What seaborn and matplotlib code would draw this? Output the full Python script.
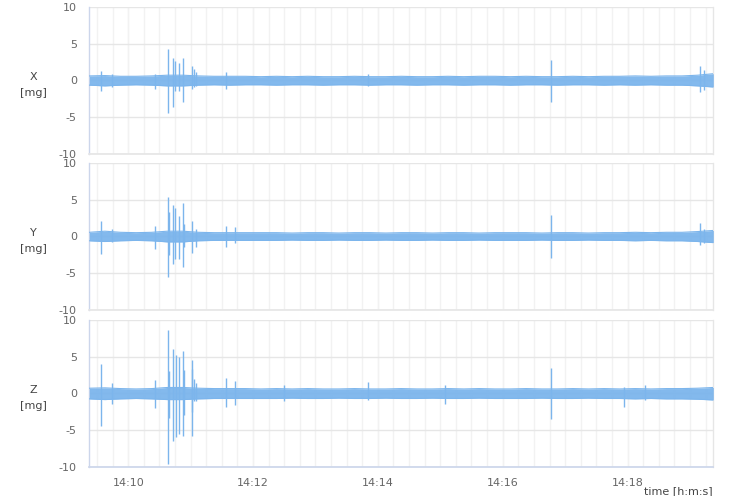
import matplotlib
matplotlib.use("Agg")
import matplotlib.pyplot as plt
from matplotlib.ticker import FuncFormatter, FixedLocator
import seaborn as sns
import pandas as pd

# ---------------- data (seconds after 14:00:00) ----------------
band_t = [562.5, 577.5, 592.5, 607.5, 622.5, 637.5, 652.5, 667.5, 682.5, 697.5,
          712.5, 727.5, 742.5, 757.5, 772.5, 787.5, 802.5, 817.5, 832.5, 847.5,
          862.5, 877.5, 892.5, 907.5, 922.5, 937.5, 952.5, 967.5, 982.5, 997.5,
          1012.5, 1027.5, 1042.5, 1057.5, 1072.5, 1087.5, 1102.5, 1117.5, 1132.5, 1147.5,
          1162.5]

x_up = [0.60, 0.65, 0.55, 0.55, 0.60, 0.70, 0.70, 0.60, 0.55, 0.55,
        0.55, 0.50, 0.55, 0.50, 0.55, 0.50, 0.50, 0.55, 0.50, 0.50,
        0.55, 0.50, 0.50, 0.55, 0.50, 0.55, 0.55, 0.50, 0.55, 0.50,
        0.50, 0.55, 0.50, 0.55, 0.55, 0.60, 0.55, 0.60, 0.60, 0.70,
        0.90]
x_lo = [-0.65, -0.75, -0.65, -0.60, -0.65, -0.75, -0.75, -0.65, -0.60, -0.65,
        -0.60, -0.60, -0.65, -0.60, -0.60, -0.65, -0.60, -0.60, -0.65, -0.60,
        -0.60, -0.65, -0.60, -0.60, -0.65, -0.60, -0.60, -0.65, -0.60, -0.60,
        -0.65, -0.60, -0.60, -0.65, -0.60, -0.65, -0.60, -0.65, -0.65, -0.75,
        -0.90]

y_up = [0.55, 0.70, 0.55, 0.50, 0.55, 0.70, 0.70, 0.55, 0.50, 0.50,
        0.50, 0.50, 0.50, 0.45, 0.50, 0.50, 0.45, 0.50, 0.50, 0.45,
        0.50, 0.50, 0.45, 0.50, 0.50, 0.45, 0.50, 0.50, 0.50, 0.45,
        0.50, 0.50, 0.45, 0.50, 0.50, 0.55, 0.50, 0.55, 0.55, 0.65,
        0.80]
y_lo = [-0.60, -0.70, -0.60, -0.55, -0.60, -0.75, -0.75, -0.60, -0.55, -0.55,
        -0.55, -0.55, -0.55, -0.50, -0.55, -0.55, -0.50, -0.55, -0.55, -0.50,
        -0.55, -0.55, -0.50, -0.55, -0.55, -0.50, -0.55, -0.55, -0.55, -0.50,
        -0.55, -0.55, -0.50, -0.55, -0.55, -0.60, -0.55, -0.60, -0.60, -0.70,
        -0.85]

z_up = [0.70, 0.75, 0.65, 0.60, 0.65, 0.80, 0.80, 0.70, 0.65, 0.65,
        0.65, 0.60, 0.65, 0.60, 0.65, 0.60, 0.60, 0.65, 0.60, 0.60,
        0.65, 0.60, 0.60, 0.65, 0.60, 0.65, 0.60, 0.60, 0.65, 0.60,
        0.60, 0.65, 0.60, 0.65, 0.60, 0.65, 0.60, 0.65, 0.65, 0.70,
        0.80]
z_lo = [-0.75, -0.85, -0.75, -0.70, -0.75, -0.85, -0.85, -0.75, -0.70, -0.70,
        -0.70, -0.70, -0.70, -0.65, -0.70, -0.70, -0.65, -0.70, -0.70, -0.65,
        -0.70, -0.70, -0.65, -0.70, -0.70, -0.65, -0.70, -0.70, -0.70, -0.65,
        -0.70, -0.70, -0.65, -0.70, -0.70, -0.75, -0.70, -0.75, -0.75, -0.80,
        -0.90]

# spikes: time, max, min
x_spk_t = [573.8, 584.0, 626.0, 637.7, 643.0, 645.2, 649.2, 652.6, 661.5, 663.5, 665.4, 694.0, 830.8, 1006.4, 1149.4, 1153.5]
x_spk_hi = [1.3, 0.9, 0.8, 4.2, 3.0, 2.6, 2.4, 3.1, 2.0, 1.6, 1.1, 1.1, 0.8, 2.75, 2.0, 1.4]
x_spk_lo = [-1.4, -0.9, -1.2, -4.5, -3.6, -1.5, -1.5, -2.9, -1.2, -0.9, -0.8, -1.2, -0.8, -2.9, -1.6, -1.3]

y_spk_t = [573.5, 584.0, 626.0, 637.7, 638.7, 643.0, 645.2, 649.2, 652.6, 654.0, 660.8, 665.4, 694.0, 702.4, 1006.4, 1149.4, 1153.5]
y_spk_hi = [2.1, 1.0, 1.4, 5.4, 3.25, 4.25, 3.9, 2.8, 4.5, 1.7, 2.1, 1.0, 1.4, 1.3, 2.9, 1.8, 1.0]
y_spk_lo = [-2.4, -0.8, -1.7, -5.5, -2.5, -3.7, -3.1, -3.1, -4.1, -1.5, -2.2, -1.5, -1.5, -0.9, -2.9, -1.2, -0.9]

z_spk_t = [573.8, 584.0, 626.0, 637.7, 639.0, 643.0, 645.7, 649.2, 652.6, 653.8, 660.8, 661.5, 663.5, 665.4,
           694.0, 702.6, 749.4, 830.8, 904.8, 1006.4, 1076.9, 1097.0]
z_spk_hi = [4.0, 1.45, 1.8, 8.6, 3.0, 6.0, 5.2, 4.9, 5.8, 3.2, 3.3, 4.5, 2.0, 1.45,
            2.05, 1.7, 1.1, 1.5, 1.1, 3.5, 0.9, 1.2]
z_spk_lo = [-4.5, -1.5, -2.0, -9.7, -3.4, -6.5, -6.0, -5.5, -5.8, -3.0, -2.6, -5.8, -1.0, -1.0,
            -1.9, -1.6, -1.0, -0.9, -1.4, -3.5, -1.8, -0.9]

panel_names = ["X", "Y", "Z"]
y_ticks = [-10, -5, 0, 5, 10]
x_major = [600, 720, 840, 960, 1080]
x_min, x_max = 562.5, 1162.5

bands = {"X": (x_up, x_lo), "Y": (y_up, y_lo), "Z": (z_up, z_lo)}
spikes = {"X": (x_spk_t, x_spk_hi, x_spk_lo),
          "Y": (y_spk_t, y_spk_hi, y_spk_lo),
          "Z": (z_spk_t, z_spk_hi, z_spk_lo)}

# ---------------- style ----------------
sns.set_theme(style="white")
plt.rcParams['font.family'] = ['DejaVu Sans']
LINE = "#7cb5ec"
GRID = "#e6e6e6"
MINOR = "#f2f2f2"
AXIS = "#ccd6eb"
TXT = "#666666"


def hm(v, pos):
    s = int(round(v))
    return "14:%02d" % (s // 60)


fig = plt.figure(figsize=(7.44, 4.96), dpi=100)
W, H = 744.0, 496.0
left = 89.3 / W
width = (713.3 - 89.3) / W
panel_px = [(6.7, 154.0), (162.7, 310.0), (320.0, 466.7)]

minor_ticks = [x_min + 7.5 + 15 * k for k in range(40)]

for i, name in enumerate(panel_names):
    top_px, bot_px = panel_px[i]
    ax = fig.add_axes([left, 1 - bot_px / H, width, (bot_px - top_px) / H])
    up, lo = bands[name]
    df = pd.DataFrame({"t": band_t, "up": up, "lo": lo})
    ax.fill_between(df["t"], df["lo"], df["up"], color=LINE, alpha=0.95, lw=0, zorder=3)
    sns.lineplot(data=df, x="t", y="up", ax=ax, color=LINE, lw=0.8, zorder=3)
    sns.lineplot(data=df, x="t", y="lo", ax=ax, color=LINE, lw=0.8, zorder=3)
    st, sh, sl = spikes[name]
    ax.vlines(st, sl, sh, color=LINE, lw=1.0, zorder=4)

    ax.set_xlim(x_min, x_max)
    ax.set_ylim(-10, 10)
    ax.set_yticks(y_ticks)
    ax.set_yticklabels([str(v) for v in y_ticks])
    ax.xaxis.set_major_locator(FixedLocator(x_major))
    ax.xaxis.set_minor_locator(FixedLocator(minor_ticks))
    ax.xaxis.set_major_formatter(FuncFormatter(hm))
    ax.grid(False)
    for yv in y_ticks:
        ax.axhline(yv, color=GRID, lw=1.0, zorder=1)
    for xv in minor_ticks + x_major:
        ax.axvline(xv, color=MINOR, lw=1.0, zorder=0.5)

    ax.set_xlabel("")
    ax.set_ylabel(f"{name}\n[mg]", rotation=0, fontsize=8, color="#444444",
                  linespacing=1.7, ha="center", va="center")
    ax.yaxis.set_label_coords((33 - 89.3) / 624.0, 0.47)
    ax.tick_params(axis="y", length=0, pad=9, labelsize=8, labelcolor=TXT)
    ax.spines["top"].set_visible(False)
    ax.spines["left"].set_color(AXIS)
    ax.spines["left"].set_linewidth(1.0)
    ax.spines["right"].set_color(GRID)
    ax.spines["right"].set_linewidth(1.0)
    if i < 2:
        ax.spines["bottom"].set_color(GRID)
        ax.tick_params(axis="x", which="both", length=0, labelbottom=False)
    else:
        ax.spines["bottom"].set_color(AXIS)
        ax.tick_params(axis="x", which="major", length=5, width=1, color=AXIS,
                       direction="out", pad=3, labelsize=8, labelcolor=TXT)
        ax.tick_params(axis="x", which="minor", length=0)

fig.text(713.0 / W, 1 - 491.0 / H, "time [h:m:s]", ha="right", va="center",
         fontsize=8, color="#444444")

fig.savefig("out.png", dpi=100)
